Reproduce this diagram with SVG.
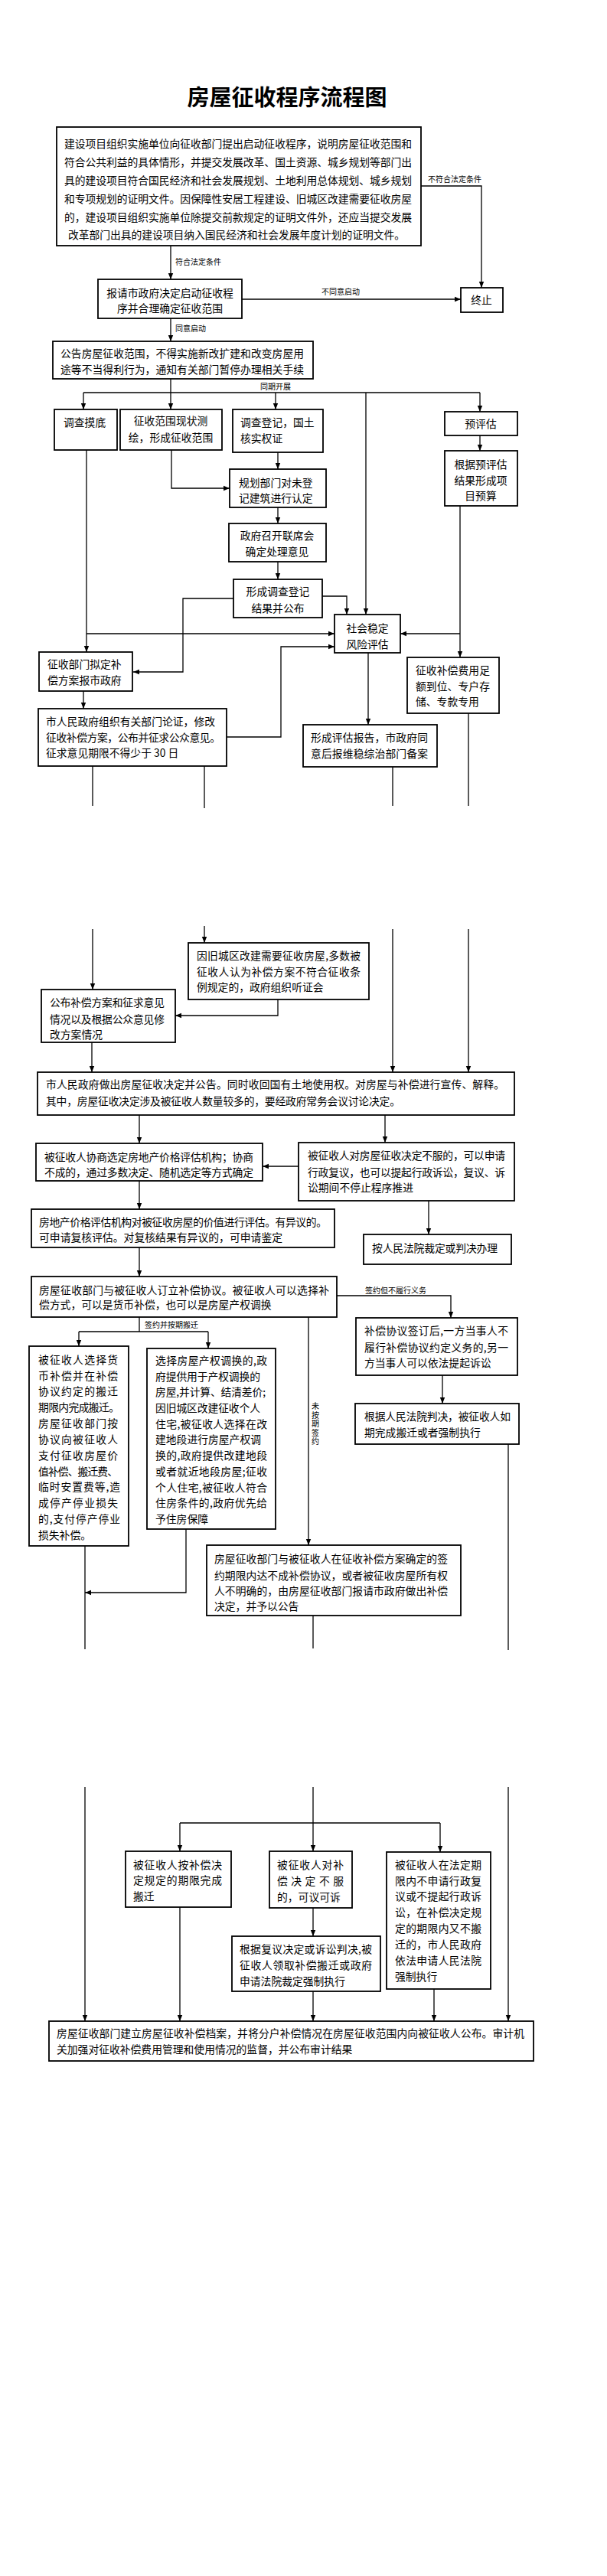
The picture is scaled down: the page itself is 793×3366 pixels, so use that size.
<svg xmlns="http://www.w3.org/2000/svg" width="793" height="3366" viewBox="0 0 793 3366">
<style>
.b{fill:#fff;stroke:#000;stroke-width:1.8}
.t{font-family:"Noto Sans CJK SC","Noto Sans",sans-serif;font-size:13.8px;fill:#000}
.m{text-anchor:middle}
.s{font-family:"Noto Sans CJK SC","Noto Sans",sans-serif;font-size:10px;fill:#000}
.c{fill:none;stroke:#000;stroke-width:1.3}
.ttl{font-family:"Noto Sans CJK SC",sans-serif;font-size:29px;font-weight:bold;text-anchor:middle}
</style>
<defs>
<marker id="a" viewBox="0 0 10 10" refX="10" refY="5" markerWidth="8" markerHeight="8" orient="auto" markerUnits="userSpaceOnUse"><path d="M0,1 L10,5 L0,9 z" fill="#000"/></marker>
</defs>
<rect width="793" height="3366" fill="#fff"/>
<text class="ttl" x="375" y="138">房屋征收程序流程图</text>

<g id="connectors">
<polyline class="c" points="550,243 629,243 629,376" marker-end="url(#a)"/>
<line class="c" x1="223" y1="321" x2="223" y2="365" marker-end="url(#a)"/>
<line class="c" x1="316" y1="391" x2="602" y2="391" marker-end="url(#a)"/>
<line class="c" x1="223" y1="416" x2="223" y2="446" marker-end="url(#a)"/>
<line class="c" x1="223" y1="495" x2="223" y2="513"/>
<line class="c" x1="109" y1="513" x2="627" y2="513"/>
<line class="c" x1="109" y1="513" x2="109" y2="535" marker-end="url(#a)"/>
<line class="c" x1="223" y1="513" x2="223" y2="535" marker-end="url(#a)"/>
<line class="c" x1="360" y1="513" x2="360" y2="535" marker-end="url(#a)"/>
<line class="c" x1="627" y1="513" x2="627" y2="538" marker-end="url(#a)"/>
<line class="c" x1="478" y1="513" x2="478" y2="803" marker-end="url(#a)"/>
<line class="c" x1="627" y1="569" x2="627" y2="589" marker-end="url(#a)"/>
<polyline class="c" points="224,588 224,638 300,638" marker-end="url(#a)"/>
<line class="c" x1="363" y1="591" x2="363" y2="613" marker-end="url(#a)"/>
<line class="c" x1="363" y1="663" x2="363" y2="684" marker-end="url(#a)"/>
<line class="c" x1="363" y1="734" x2="363" y2="757" marker-end="url(#a)"/>
<polyline class="c" points="305,782 239,782 239,878 174,878" marker-end="url(#a)"/>
<polyline class="c" points="421,779 453,779 453,803" marker-end="url(#a)"/>
<line class="c" x1="113" y1="588" x2="113" y2="852" marker-end="url(#a)"/>
<line class="c" x1="113" y1="828" x2="437" y2="828" marker-end="url(#a)"/>
<line class="c" x1="601" y1="661" x2="601" y2="859" marker-end="url(#a)"/>
<line class="c" x1="601" y1="828" x2="523" y2="828" marker-end="url(#a)"/>
<line class="c" x1="109" y1="903" x2="109" y2="926" marker-end="url(#a)"/>
<polyline class="c" points="296,963 367,963 367,845 437,845" marker-end="url(#a)"/>
<line class="c" x1="481" y1="853" x2="481" y2="947" marker-end="url(#a)"/>
<line class="c" x1="121" y1="1001" x2="121" y2="1053"/>
<line class="c" x1="267" y1="1001" x2="267" y2="1056"/>
<line class="c" x1="513" y1="1002" x2="513" y2="1053"/>
<line class="c" x1="612" y1="932" x2="612" y2="1053"/>
<line class="c" x1="121" y1="1214" x2="121" y2="1293" marker-end="url(#a)"/>
<line class="c" x1="267" y1="1210" x2="267" y2="1232" marker-end="url(#a)"/>
<line class="c" x1="513" y1="1214" x2="513" y2="1401" marker-end="url(#a)"/>
<line class="c" x1="612" y1="1214" x2="612" y2="1401" marker-end="url(#a)"/>
<polyline class="c" points="363,1306 363,1327 229,1327" marker-end="url(#a)"/>
<line class="c" x1="120" y1="1362" x2="120" y2="1401" marker-end="url(#a)"/>
<line class="c" x1="182" y1="1457" x2="182" y2="1494" marker-end="url(#a)"/>
<line class="c" x1="503" y1="1457" x2="503" y2="1493" marker-end="url(#a)"/>
<line class="c" x1="390" y1="1524" x2="343" y2="1524" marker-end="url(#a)"/>
<line class="c" x1="182" y1="1543" x2="182" y2="1580" marker-end="url(#a)"/>
<line class="c" x1="560" y1="1569" x2="560" y2="1613" marker-end="url(#a)"/>
<line class="c" x1="182" y1="1630" x2="182" y2="1668" marker-end="url(#a)"/>
<polyline class="c" points="440,1693 589,1693 589,1722" marker-end="url(#a)"/>
<line class="c" x1="578" y1="1797" x2="578" y2="1834" marker-end="url(#a)"/>
<line class="c" x1="182" y1="1721" x2="182" y2="1740"/>
<line class="c" x1="103" y1="1740" x2="272" y2="1740"/>
<line class="c" x1="103" y1="1740" x2="103" y2="1759" marker-end="url(#a)"/>
<line class="c" x1="272" y1="1740" x2="272" y2="1762" marker-end="url(#a)"/>
<line class="c" x1="403" y1="1721" x2="403" y2="2019" marker-end="url(#a)"/>
<polyline class="c" points="243,1998 243,2081 111,2081" marker-end="url(#a)"/>
<line class="c" x1="111" y1="2020" x2="111" y2="2155"/>
<line class="c" x1="409" y1="2111" x2="409" y2="2154"/>
<line class="c" x1="664" y1="1887" x2="664" y2="2156"/>
<line class="c" x1="111" y1="2335" x2="111" y2="2641" marker-end="url(#a)"/>
<line class="c" x1="664" y1="2335" x2="664" y2="2641" marker-end="url(#a)"/>
<line class="c" x1="409" y1="2335" x2="409" y2="2382"/>
<line class="c" x1="235" y1="2382" x2="575" y2="2382"/>
<line class="c" x1="235" y1="2382" x2="235" y2="2419" marker-end="url(#a)"/>
<line class="c" x1="409" y1="2382" x2="409" y2="2419" marker-end="url(#a)"/>
<line class="c" x1="575" y1="2382" x2="575" y2="2420" marker-end="url(#a)"/>
<line class="c" x1="409" y1="2493" x2="409" y2="2530" marker-end="url(#a)"/>
<line class="c" x1="235" y1="2492" x2="235" y2="2641" marker-end="url(#a)"/>
<line class="c" x1="409" y1="2602" x2="409" y2="2641" marker-end="url(#a)"/>
<line class="c" x1="567" y1="2599" x2="567" y2="2641" marker-end="url(#a)"/>
<text class="s" x="559" y="238">不符合法定条件</text>
<text class="s" x="229" y="346">符合法定条件</text>
<text class="s" x="420" y="385">不同意启动</text>
<text class="s" x="229" y="433">同意启动</text>
<text class="s" x="340" y="509">同期开展</text>
<text class="s" x="477" y="1690">签约但不履行义务</text>
<text class="s" x="189" y="1735">签约并按期搬迁</text>
<text class="s m" x="412"><tspan x="412" y="1841">未</tspan><tspan x="412" y="1852.5">按</tspan><tspan x="412" y="1864">期</tspan><tspan x="412" y="1875.5">签</tspan><tspan x="412" y="1887">约</tspan></text>
</g>

<g id="n1"><rect class="b" x="74" y="166" width="476" height="155"/>
<text class="t" x="84" y="193" textLength="454" lengthAdjust="spacing">建设项目组织实施单位向征收部门提出启动征收程序，说明房屋征收范围和</text>
<text class="t" x="84" y="217" textLength="454" lengthAdjust="spacing">符合公共利益的具体情形，并提交发展改革、国土资源、城乡规划等部门出</text>
<text class="t" x="84" y="241" textLength="454" lengthAdjust="spacing">具的建设项目符合国民经济和社会发展规划、土地利用总体规划、城乡规划</text>
<text class="t" x="84" y="264.5" textLength="454" lengthAdjust="spacing">和专项规划的证明文件。因保障性安居工程建设、旧城区改建需要征收房屋</text>
<text class="t" x="84" y="288.5" textLength="454" lengthAdjust="spacing">的，建设项目组织实施单位除提交前款规定的证明文件外，还应当提交发展</text>
<text class="t" x="89" y="312" textLength="440" lengthAdjust="spacing">改革部门出具的建设项目纳入国民经济和社会发展年度计划的证明文件。</text></g>

<g id="n2"><rect class="b" x="128" y="365" width="188" height="51"/>
<text class="t m" x="222" y="388">报请市政府决定启动征收程</text>
<text class="t m" x="222" y="408">序并合理确定征收范围</text></g>

<g id="n_stop"><rect class="b" x="602" y="376" width="55" height="32"/>
<text class="t m" x="629" y="397">终止</text></g>

<g id="n3"><rect class="b" x="69" y="446" width="340" height="49"/>
<text class="t" x="79" y="467" textLength="318" lengthAdjust="spacing">公告房屋征收范围，不得实施新改扩建和改变房屋用</text>
<text class="t" x="79" y="488" textLength="318" lengthAdjust="spacing">途等不当得利行为，通知有关部门暂停办理相关手续</text></g>

<g id="n4"><rect class="b" x="71" y="535" width="82" height="53"/>
<text class="t" x="83" y="557">调查摸底</text></g>

<g id="n5"><rect class="b" x="157" y="535" width="133" height="53"/>
<text class="t m" x="223" y="555">征收范围现状测</text>
<text class="t m" x="223" y="577">绘，形成征收范围</text></g>

<g id="n6"><rect class="b" x="304" y="535" width="118" height="56"/>
<text class="t" x="314" y="557">调查登记，国土</text>
<text class="t" x="314" y="578">核实权证</text></g>

<g id="n7"><rect class="b" x="581" y="538" width="95" height="31"/>
<text class="t m" x="628" y="559">预评估</text></g>

<g id="n8"><rect class="b" x="581" y="589" width="95" height="72"/>
<text class="t m" x="628" y="612">根据预评估</text>
<text class="t m" x="628" y="633">结果形成项</text>
<text class="t m" x="628" y="653">目预算</text></g>

<g id="n9"><rect class="b" x="300" y="613" width="126" height="50"/>
<text class="t" x="312" y="636">规划部门对未登</text>
<text class="t" x="312" y="656">记建筑进行认定</text></g>

<g id="n10"><rect class="b" x="299" y="684" width="127" height="50"/>
<text class="t m" x="362" y="705">政府召开联席会</text>
<text class="t m" x="362" y="726">确定处理意见</text></g>

<g id="n11"><rect class="b" x="305" y="757" width="116" height="50"/>
<text class="t m" x="363" y="778">形成调查登记</text>
<text class="t m" x="363" y="800">结果并公布</text></g>

<g id="n12"><rect class="b" x="437" y="803" width="86" height="50"/>
<text class="t m" x="480" y="826">社会稳定</text>
<text class="t m" x="480" y="847">风险评估</text></g>

<g id="n13"><rect class="b" x="51" y="852" width="122" height="51"/>
<text class="t" x="62" y="873">征收部门拟定补</text>
<text class="t" x="62" y="894">偿方案报市政府</text></g>

<g id="n14"><rect class="b" x="50" y="926" width="246" height="75"/>
<text class="t" x="60" y="948" textLength="221" lengthAdjust="spacing">市人民政府组织有关部门论证，修改</text>
<text class="t" x="60" y="969" textLength="228" lengthAdjust="spacing">征收补偿方案，公布并征求公众意见。</text>
<text class="t" x="60" y="989">征求意见期限不得少于 30 日</text></g>

<g id="n15"><rect class="b" x="396" y="947" width="175" height="55"/>
<text class="t" x="406" y="969" textLength="153" lengthAdjust="spacing">形成评估报告，市政府同</text>
<text class="t" x="406" y="990" textLength="153" lengthAdjust="spacing">意后报维稳综治部门备案</text></g>

<g id="n16"><rect class="b" x="532" y="859" width="120" height="73"/>
<text class="t" x="543" y="881" textLength="97" lengthAdjust="spacing">征收补偿费用足</text>
<text class="t" x="543" y="902" textLength="97" lengthAdjust="spacing">额到位、专户存</text>
<text class="t" x="543" y="922">储、专款专用</text></g>

<g id="n17"><rect class="b" x="246" y="1232" width="236" height="74"/>
<text class="t" x="257" y="1254" textLength="214" lengthAdjust="spacing">因旧城区改建需要征收房屋,多数被</text>
<text class="t" x="257" y="1275" textLength="214" lengthAdjust="spacing">征收人认为补偿方案不符合征收条</text>
<text class="t" x="257" y="1295">例规定的，政府组织听证会</text></g>

<g id="n18"><rect class="b" x="54" y="1293" width="175" height="69"/>
<text class="t" x="65" y="1315" textLength="150" lengthAdjust="spacing">公布补偿方案和征求意见</text>
<text class="t" x="65" y="1337" textLength="150" lengthAdjust="spacing">情况以及根据公众意见修</text>
<text class="t" x="65" y="1357">改方案情况</text></g>

<g id="n19"><rect class="b" x="49" y="1401" width="623" height="56"/>
<text class="t" x="60" y="1422" textLength="599" lengthAdjust="spacing">市人民政府做出房屋征收决定并公告。同时收回国有土地使用权。对房屋与补偿进行宣传、解释。</text>
<text class="t" x="60" y="1444" textLength="463" lengthAdjust="spacing">其中，房屋征收决定涉及被征收人数量较多的，要经政府常务会议讨论决定。</text></g>

<g id="n20"><rect class="b" x="47" y="1494" width="296" height="49"/>
<text class="t" x="58" y="1517" textLength="273" lengthAdjust="spacing">被征收人协商选定房地产价格评估机构；协商</text>
<text class="t" x="58" y="1537" textLength="273" lengthAdjust="spacing">不成的，通过多数决定、随机选定等方式确定</text></g>

<g id="n21"><rect class="b" x="390" y="1493" width="282" height="76"/>
<text class="t" x="402" y="1515" textLength="258" lengthAdjust="spacing">被征收人对房屋征收决定不服的，可以申请</text>
<text class="t" x="402" y="1537" textLength="258" lengthAdjust="spacing">行政复议，也可以提起行政诉讼，复议、诉</text>
<text class="t" x="402" y="1557">讼期间不停止程序推进</text></g>

<g id="n22"><rect class="b" x="41" y="1580" width="396" height="50"/>
<text class="t" x="51" y="1602" textLength="376" lengthAdjust="spacing">房地产价格评估机构对被征收房屋的价值进行评估。有异议的。</text>
<text class="t" x="51" y="1622" textLength="318" lengthAdjust="spacing">可申请复核评估。对复核结果有异议的，可申请鉴定</text></g>

<g id="n23"><rect class="b" x="475" y="1613" width="193" height="39"/>
<text class="t" x="486" y="1636" textLength="164" lengthAdjust="spacing">按人民法院裁定或判决办理</text></g>

<g id="n24"><rect class="b" x="41" y="1668" width="399" height="53"/>
<text class="t" x="51" y="1691" textLength="379" lengthAdjust="spacing">房屋征收部门与被征收人订立补偿协议。被征收人可以选择补</text>
<text class="t" x="51" y="1710">偿方式，可以是货币补偿，也可以是房屋产权调换</text></g>

<g id="n25"><rect class="b" x="465" y="1722" width="211" height="75"/>
<text class="t" x="476" y="1744" textLength="188" lengthAdjust="spacing">补偿协议签订后,一方当事人不</text>
<text class="t" x="476" y="1766" textLength="188" lengthAdjust="spacing">履行补偿协议约定义务的,另一</text>
<text class="t" x="476" y="1786">方当事人可以依法提起诉讼</text></g>

<g id="n26"><rect class="b" x="464" y="1834" width="214" height="53"/>
<text class="t" x="476" y="1856" textLength="191" lengthAdjust="spacing">根据人民法院判决，被征收人如</text>
<text class="t" x="476" y="1877">期完成搬迁或者强制执行</text></g>

<g id="n27"><rect class="b" x="38" y="1759" width="130" height="261"/>
<text class="t" x="50" y="1782" textLength="104" lengthAdjust="spacing">被征收人选择货</text>
<text class="t" x="50" y="1803" textLength="104" lengthAdjust="spacing">币补偿并在补偿</text>
<text class="t" x="50" y="1823" textLength="104" lengthAdjust="spacing">协议约定的搬迁</text>
<text class="t" x="50" y="1844" textLength="106" lengthAdjust="spacing">期限内完成搬迁。</text>
<text class="t" x="50" y="1865" textLength="104" lengthAdjust="spacing">房屋征收部门按</text>
<text class="t" x="50" y="1886" textLength="104" lengthAdjust="spacing">协议向被征收人</text>
<text class="t" x="50" y="1907" textLength="104" lengthAdjust="spacing">支付征收房屋价</text>
<text class="t" x="50" y="1928" textLength="104" lengthAdjust="spacing">值补偿、搬迁费、</text>
<text class="t" x="50" y="1948" textLength="107" lengthAdjust="spacing">临时安置费等,造</text>
<text class="t" x="50" y="1969" textLength="104" lengthAdjust="spacing">成停产停业损失</text>
<text class="t" x="50" y="1990" textLength="107" lengthAdjust="spacing">的,支付停产停业</text>
<text class="t" x="50" y="2011">损失补偿。</text></g>

<g id="n28"><rect class="b" x="192" y="1762" width="168" height="236"/>
<text class="t" x="203" y="1783" textLength="146" lengthAdjust="spacing">选择房屋产权调换的,政</text>
<text class="t" x="203" y="1804" textLength="137" lengthAdjust="spacing">府提供用于产权调换的</text>
<text class="t" x="203" y="1824" textLength="144" lengthAdjust="spacing">房屋,并计算、结清差价;</text>
<text class="t" x="203" y="1845" textLength="137" lengthAdjust="spacing">因旧城区改建征收个人</text>
<text class="t" x="203" y="1866" textLength="146" lengthAdjust="spacing">住宅,被征收人选择在改</text>
<text class="t" x="203" y="1886" textLength="138" lengthAdjust="spacing">建地段进行房屋产权调</text>
<text class="t" x="203" y="1907" textLength="146" lengthAdjust="spacing">换的,政府提供改建地段</text>
<text class="t" x="203" y="1928" textLength="146" lengthAdjust="spacing">或者就近地段房屋;征收</text>
<text class="t" x="203" y="1949" textLength="146" lengthAdjust="spacing">个人住宅,被征收人符合</text>
<text class="t" x="203" y="1969" textLength="146" lengthAdjust="spacing">住房条件的,政府优先给</text>
<text class="t" x="203" y="1990">予住房保障</text></g>

<g id="n29"><rect class="b" x="270" y="2019" width="332" height="92"/>
<text class="t" x="280" y="2042" textLength="305" lengthAdjust="spacing">房屋征收部门与被征收人在征收补偿方案确定的签</text>
<text class="t" x="280" y="2064" textLength="305" lengthAdjust="spacing">约期限内达不成补偿协议，或者被征收房屋所有权</text>
<text class="t" x="280" y="2084" textLength="305" lengthAdjust="spacing">人不明确的，由房屋征收部门报请市政府做出补偿</text>
<text class="t" x="280" y="2104">决定，并予以公告</text></g>

<g id="n30"><rect class="b" x="164" y="2419" width="138" height="73"/>
<text class="t" x="174" y="2442" textLength="116" lengthAdjust="spacing">被征收人按补偿决</text>
<text class="t" x="174" y="2462" textLength="116" lengthAdjust="spacing">定规定的期限完成</text>
<text class="t" x="174" y="2483">搬迁</text></g>

<g id="n31"><rect class="b" x="352" y="2419" width="108" height="74"/>
<text class="t" x="362" y="2442" textLength="87" lengthAdjust="spacing">被征收人对补</text>
<text class="t" x="362" y="2463" textLength="87" lengthAdjust="spacing">偿 决 定 不 服</text>
<text class="t" x="362" y="2484">的，可议可诉</text></g>

<g id="n32"><rect class="b" x="505" y="2420" width="136" height="179"/>
<text class="t" x="516" y="2442" textLength="113" lengthAdjust="spacing">被征收人在法定期</text>
<text class="t" x="516" y="2463" textLength="113" lengthAdjust="spacing">限内不申请行政复</text>
<text class="t" x="516" y="2483" textLength="113" lengthAdjust="spacing">议或不提起行政诉</text>
<text class="t" x="516" y="2504" textLength="113" lengthAdjust="spacing">讼，在补偿决定规</text>
<text class="t" x="516" y="2525" textLength="113" lengthAdjust="spacing">定的期限内又不搬</text>
<text class="t" x="516" y="2546" textLength="113" lengthAdjust="spacing">迁的，市人民政府</text>
<text class="t" x="516" y="2567" textLength="113" lengthAdjust="spacing">依法申请人民法院</text>
<text class="t" x="516" y="2588">强制执行</text></g>

<g id="n33"><rect class="b" x="303" y="2530" width="194" height="72"/>
<text class="t" x="313" y="2552" textLength="173" lengthAdjust="spacing">根据复议决定或诉讼判决,被</text>
<text class="t" x="313" y="2573" textLength="173" lengthAdjust="spacing">征收人领取补偿搬迁或政府</text>
<text class="t" x="313" y="2594">申请法院裁定强制执行</text></g>

<g id="n34"><rect class="b" x="64" y="2641" width="633" height="52"/>
<text class="t" x="74" y="2662" textLength="611" lengthAdjust="spacing">房屋征收部门建立房屋征收补偿档案，并将分户补偿情况在房屋征收范围内向被征收人公布。审计机</text>
<text class="t" x="74" y="2683">关加强对征收补偿费用管理和使用情况的监督，并公布审计结果</text></g>
</svg>
